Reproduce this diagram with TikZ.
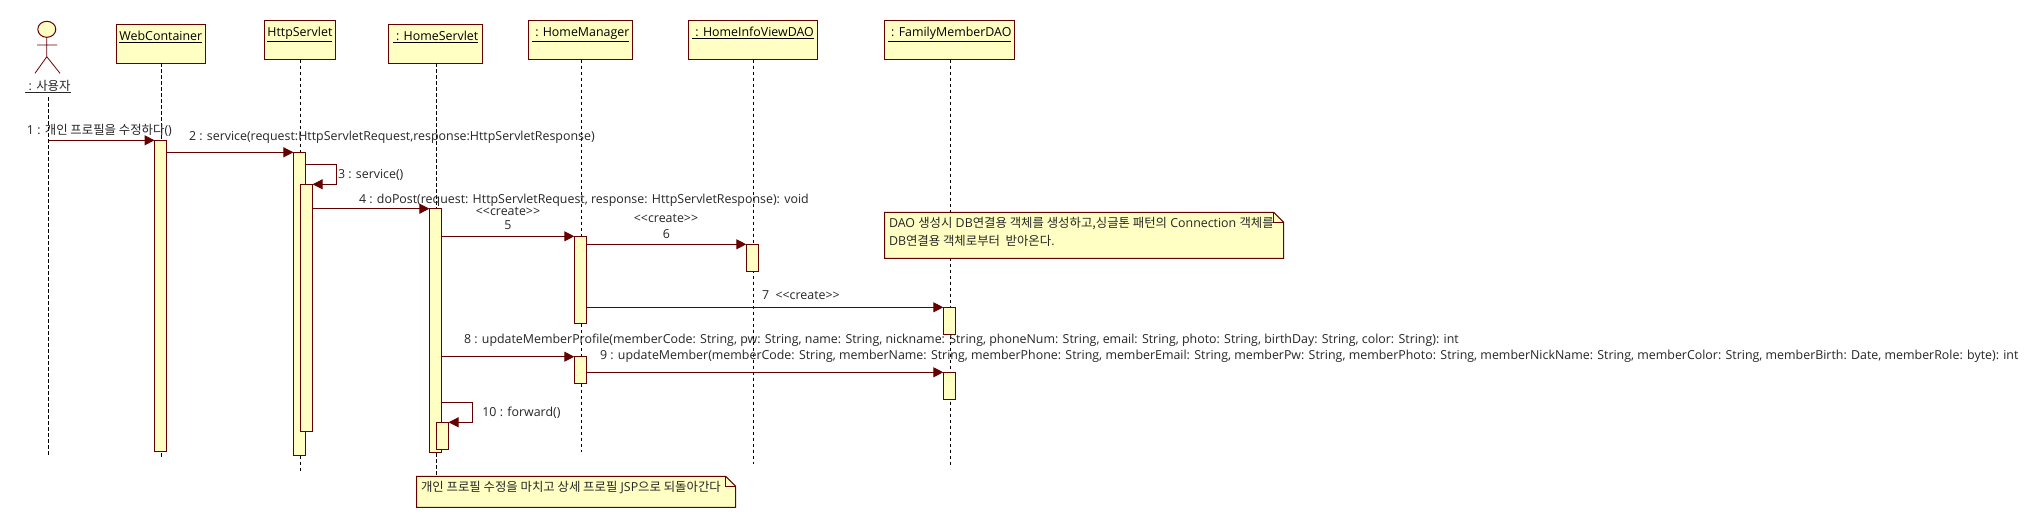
\documentclass[tikz,border=0pt]{standalone}
\usepackage{fontspec}
\setmainfont{Open Sans}
\newfontfamily\krf{Noto Sans CJK KR}
\newcommand{\kr}[1]{{\krf\fontsize{12.4}{14}\selectfont #1}}
\usetikzlibrary{arrows.meta}
\definecolor{umlline}{HTML}{660000}
\definecolor{umlfill}{HTML}{FFFFC4}
\tikzset{
  objbox/.style={draw=umlline,fill=umlfill,line width=1pt,inner xsep=0pt,inner ysep=8pt,text height=8pt,text depth=15pt,outer sep=0pt,font=\fontsize{12.4}{14}\selectfont},
  activ/.style={draw=umlline,fill=umlfill,line width=1pt,inner sep=0pt,outer sep=0pt,minimum width=12.2pt},
  lifel/.style={black,line width=1pt,dash pattern=on 3.5pt off 2.5pt},
  msg/.style={umlline,line width=1pt,-{Triangle[length=10pt,width=10pt]}},
  lbl/.style={inner sep=0pt,outer sep=0pt,anchor=west,text height=8.5pt,text depth=2.5pt,font=\fontsize{12.4}{14}\selectfont,text=black!85},
  clbl/.style={lbl,anchor=center},
  notebody/.style={draw=umlline,fill=umlfill,line width=1pt,line join=miter},
}
\newcommand{\activbar}[4]{%
  \pgfmathsetmacro{\cy}{(#3+#4)/2}\pgfmathsetmacro{\hh}{#4-#3}%
  \node[activ,minimum height=\hh pt] (#1) at (#2,\cy) {};}
\newcommand{\notebox}[4]{%
  \draw[notebody] (#1,#3) -- (#2-10,#3) -- (#2,#3+10) -- (#2,#4) -- (#1,#4) -- cycle;
  \draw[notebody,fill=none] (#2-10,#3) -- (#2-10,#3+10) -- (#2,#3+10);}
\begin{document}
\begin{tikzpicture}[x=1pt,y=-1pt]
\useasboundingbox[fill=white] (0,0) rectangle (2036,528);
% objects
\node[objbox,minimum width=89.5pt,minimum height=39pt] (wc) at (160.8,43.8) {\underline{WebContainer}};
\node[objbox,minimum width=70.7pt,minimum height=39.4pt] (hsv) at (299.9,40) {\underline{HttpServlet}};
\node[objbox,minimum width=94.2pt,minimum height=39pt] (home) at (435.6,43.8) {\underline{\ : HomeServlet}};
\node[objbox,minimum width=104.1pt,minimum height=39.4pt] (mgr) at (580.7,40) {\underline{\ : HomeManager}};
\node[objbox,minimum width=128.8pt,minimum height=39.4pt] (hiv) at (753,40) {\underline{\ : HomeInfoViewDAO}};
\node[objbox,minimum width=130.1pt,minimum height=39.4pt] (fam) at (949.7,40) {\underline{\ : FamilyMemberDAO}};
% actor
\draw[umlline,line width=1pt,fill=umlfill] (46.8,29.3) ellipse (9 and 8);
\draw[umlline,line width=.8pt] (46.8,37.3) -- (46.8,56.7) (37,45) -- (57,45) (35,73.3) -- (46.8,56.7) -- (60,73.3);
\node[clbl] (actorname) at (48,87) {\underline{\ : \kr{사용자}}};
% lifeline ends
\coordinate (actTop) at (48.5,97);
\coordinate (actEnd) at (48.5,455.7);
\coordinate (wcEnd) at (161.7,456.7);
\coordinate (hsvEnd) at (300.5,470.7);
\coordinate (homeEnd) at (436.3,476);
\coordinate (mgrEnd) at (581.4,451.7);
\coordinate (hivEnd) at (753.3,464);
\coordinate (famEnd) at (950.5,465);
\draw[lifel] (actTop) -- (actEnd);
\draw[lifel] (wc.south -| wcEnd) -- (wcEnd);
\draw[lifel] (hsv.south -| hsvEnd) -- (hsvEnd);
\draw[lifel] (home.south -| homeEnd) -- (homeEnd);
\draw[lifel] (mgr.south -| mgrEnd) -- (mgrEnd);
\draw[lifel] (hiv.south -| hivEnd) -- (hivEnd);
\draw[lifel] (fam.south -| famEnd) -- (famEnd);
% activations
\activbar{aWC}{160.6}{140.3}{451.3}
\activbar{aHa}{299.5}{152.3}{455.7}
\activbar{aHb}{306.5}{184.3}{431.3}
\activbar{aSa}{435.5}{208.7}{452.3}
\activbar{aSb}{442.5}{422.3}{449.3}
\activbar{aMa}{580.4}{236.3}{323.3}
\activbar{aMb}{580.4}{356.7}{383.3}
\activbar{aV}{752.4}{244.3}{271.3}
\activbar{aFa}{949.4}{307.3}{334.3}
\activbar{aFb}{949.4}{372.3}{399.3}
% messages
\coordinate (m1) at (48.5,140.3);
\draw[msg] (m1) -- (aWC.north west);
\draw[msg] (aHa.north west -| aWC.east) -- (aHa.north west);
\coordinate (loopA) at (336.5,164.3);
\draw[msg] (loopA -| aHa.east) -- (loopA) -- (loopA |- aHb.north east) -- (aHb.north east);
\draw[msg] (aSa.north west -| aHb.east) -- (aSa.north west);
\draw[msg] (aMa.north west -| aSa.east) -- (aMa.north west);
\draw[msg] (aV.north west -| aMa.east) -- (aV.north west);
\draw[msg] (aFa.north west -| aMa.east) -- (aFa.north west);
\draw[msg] (aMb.north west -| aSa.east) -- (aMb.north west);
\draw[msg] (aFb.north west -| aMb.east) -- (aFb.north west);
\coordinate (loopB) at (472.4,402.3);
\draw[msg] (loopB -| aSa.east) -- (loopB) -- (loopB |- aSb.north east) -- (aSb.north east);
% labels
\node[lbl] (t1) at (27,131) {1 : \kr{개인 프로필을 수정하다}()};
\node[lbl] (t2) at (189,137) {2 : service(request:HttpServletRequest,response:HttpServletResponse)};
\node[lbl] (t3) at (338,175.7) {3 : service()};
\node[lbl] (t4) at (359,200.7) {4 : doPost(request: HttpServletRequest, response: HttpServletResponse): void};
\node[clbl] (t5a) at (508,212) {<{}<create>{}>};
\node[clbl] (t5b) at (508,226.7) {5};
\node[clbl] (t6a) at (666,219.7) {<{}<create>{}>};
\node[clbl] (t6b) at (666.5,235) {6};
\node[lbl] (t7) at (762,296.7) {7\ \ <{}<create>{}>};
\node[lbl] (t8) at (464,340.7) {8 : updateMemberProfile(memberCode: String, pw: String, name: String, nickname: String, phoneNum: String, email: String, photo: String, birthDay: String, color: String): int};
\node[lbl] (t9) at (600,356.3) {9 : updateMember(memberCode: String, memberName: String, memberPhone: String, memberEmail: String, memberPw: String, memberPhoto: String, memberNickName: String, memberColor: String, memberBirth: Date, memberRole: byte): int};
\node[lbl] (t10) at (482.4,413.7) {10 : forward()};
% notes
\notebox{884.6}{1283.6}{212.3}{258.3}
\node[lbl] (n1a) at (889,224.3) {DAO \kr{생성시} DB\kr{연결용 객체를 생성하고,싱글톤 패턴의} Connection \kr{객체를}};
\node[lbl] (n1b) at (889,242.3) {DB\kr{연결용 객체로부터\ \ 받아온다}.};
\notebox{416.5}{735.6}{476.3}{507.3}
\node[lbl] (n2) at (421,488) {\kr{개인 프로필 수정을 마치고 상세 프로필} JSP\kr{으로 되돌아간다}};
\end{tikzpicture}
\end{document}
